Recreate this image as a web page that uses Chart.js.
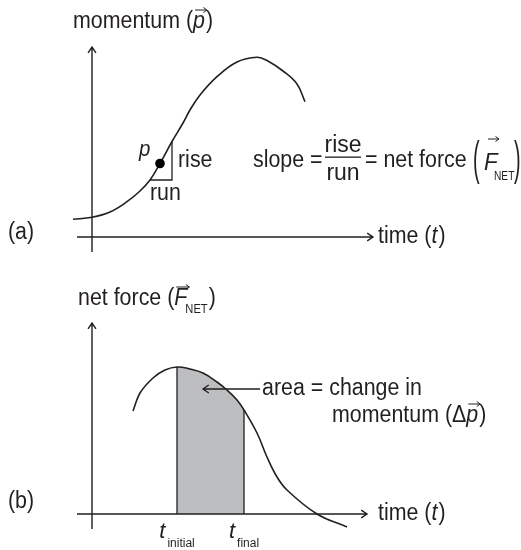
<!DOCTYPE html>
<html>
<head>
<meta charset="utf-8">
<script src="https://cdn.jsdelivr.net/npm/chart.js@4.4.1/dist/chart.umd.min.js"></script>
<style>
  html, body { margin: 0; padding: 0; background: #fff; }
  canvas { display: block; }
</style>
</head>
<body>
<canvas id="momentumChart" width="521" height="275"></canvas>
<canvas id="forceChart" width="521" height="275"></canvas>
<script>
// (a) momentum vs time (arbitrary units, origin at the axes)
const momentumTime  = [-19, 0, 18, 35, 48, 58, 68, 80, 91, 98, 108, 125, 145, 165, 175, 191, 205, 213];
const momentumValue = [17.7, 19.7, 25, 35.3, 46, 57, 73.5, 95.5, 114, 127, 142, 160.3, 175, 179.7, 176.5, 166, 153, 135.3];
const pIndex = 6;     // point p
const runIndex = 5;   // start of the run
const riseIndex = 7;  // top of the rise

// (b) net force vs time
const forceTime  = [41, 48, 61, 73, 85, 98, 111, 125, 135, 145, 152, 165, 175, 185, 195, 225, 255];
const forceValue = [103, 121, 136, 144, 147, 145, 141, 132, 124, 114, 104, 81, 57, 37, 24, 0, -13];
const tInitial = 85;
const tFinal = 152;
const pointerFrom = 168, pointerTo = 111, pointerLevel = 125;

const AXIS_TAIL = -15;
const INK = "#231f20";
const SHADE = "#bcbec0";
const FONT = '"Liberation Sans", Arial, sans-serif';
const SQUEEZE = 0.93; // the original uses a condensed face

function font(size, italic) {
  return (italic ? "italic " : "") + size + "px " + FONT;
}

function toXY(ts, vs) {
  return ts.map((t, i) => ({ x: t, y: vs[i] }));
}

// one piece of text, slightly condensed; returns its width
function put(ctx, text, x, y, f, sq) {
  const k = sq || SQUEEZE;
  ctx.font = f;
  const w = ctx.measureText(text).width * k;
  ctx.save();
  ctx.translate(x, y);
  ctx.scale(k, 1);
  ctx.fillText(text, 0, 0);
  ctx.restore();
  return w;
}

// small vector arrow over a letter
function vecArrow(ctx, x0, x1, y) {
  ctx.save();
  ctx.beginPath();
  ctx.lineWidth = 1;
  ctx.moveTo(x0, y);
  ctx.lineTo(x1, y);
  ctx.moveTo(x1 - 3.5, y - 2.5);
  ctx.lineTo(x1, y);
  ctx.lineTo(x1 - 3.5, y + 2.5);
  ctx.stroke();
  ctx.restore();
}

// pieces drawn one after another: [text, font, gapBefore, dy, arrowHeight]
function row(ctx, x, y, pieces) {
  for (const [text, f, gap, dy, vec] of pieces) {
    x += gap || 0;
    const w = put(ctx, text, x, y + (dy || 0), f);
    if (vec) vecArrow(ctx, x + 2, x + w + 2, y - vec);
    x += w;
  }
  return x;
}

// line with an open arrow head at (x1, y1)
function axisArrow(ctx, x0, y0, x1, y1) {
  const a = Math.atan2(y1 - y0, x1 - x0), L = 7, s = 0.6;
  ctx.beginPath();
  ctx.moveTo(x0, y0);
  ctx.lineTo(x1, y1);
  ctx.moveTo(x1 - L * Math.cos(a - s), y1 - L * Math.sin(a - s));
  ctx.lineTo(x1, y1);
  ctx.lineTo(x1 - L * Math.cos(a + s), y1 - L * Math.sin(a + s));
  ctx.stroke();
}

// tall thin parenthesis centred on cy
function tallParen(ctx, ch, x, cy) {
  ctx.save();
  ctx.font = font(22);
  ctx.textBaseline = "middle";
  ctx.translate(x, cy);
  ctx.scale(0.9, 2.1);
  ctx.fillText(ch, 0, 0);
  ctx.restore();
}

const F23 = font(23), I23 = font(23, true), SUB = font(12);

function timeLabel(ctx, x, y) {
  row(ctx, x, y, [["time (", F23], ["t", I23], [")", F23, 1]]);
}

const axesPlugin = {
  id: "axes",
  afterDatasetsDraw(chart) {
    const { ctx, scales: { x, y } } = chart;
    ctx.save();
    ctx.strokeStyle = INK;
    ctx.lineWidth = 1.4;
    const x0 = x.getPixelForValue(0), y0 = y.getPixelForValue(0);
    axisArrow(ctx, x.getPixelForValue(AXIS_TAIL), y0, x.getPixelForValue(x.max), y0);
    axisArrow(ctx, x0, y.getPixelForValue(AXIS_TAIL), x0, y.getPixelForValue(y.max));
    ctx.restore();
  }
};

function baseOptions(xMax, yMax, padding) {
  return {
    responsive: false,
    animation: false,
    events: [],
    layout: { padding: padding },
    plugins: { legend: { display: false }, tooltip: { enabled: false } },
    scales: {
      x: { type: "linear", min: 0, max: xMax, display: false },
      y: { type: "linear", min: 0, max: yMax, display: false }
    },
    elements: { point: { radius: 0 } }
  };
}

// === (a) MOMENTUM ===
const momentumText = {
  id: "momentumText",
  afterDraw(chart) {
    const { ctx, scales: { x, y } } = chart;
    ctx.save();
    ctx.fillStyle = INK;
    ctx.strokeStyle = INK;

    row(ctx, 73, 28, [["momentum (", F23], ["p", I23, 0, 0, 18], [")", F23, 1]]);
    put(ctx, "(a)", 8, 239, F23);

    // p, rise, run next to the point
    const px = x.getPixelForValue(momentumTime[pIndex]);
    const py = y.getPixelForValue(momentumValue[pIndex]);
    put(ctx, "p", px - 21, py - 8, font(22, true));
    const riseX = x.getPixelForValue(momentumTime[riseIndex]);
    const runY = y.getPixelForValue(momentumValue[runIndex]);
    put(ctx, "rise", riseX + 6, runY - 13, F23);
    put(ctx, "run", x.getPixelForValue(momentumTime[runIndex]), runY + 20, F23);

    // slope = rise / run = net force (F_NET)
    row(ctx, 253, 167, [["slope =", F23]]);
    ctx.textAlign = "center";
    ctx.fillText("rise", 343, 152);
    ctx.fillText("run", 343, 180);
    ctx.textAlign = "left";
    ctx.fillRect(325, 156.5, 36, 1.3);
    row(ctx, 365, 167, [["= net force", F23]]);
    tallParen(ctx, "(", 473, 161);
    put(ctx, "F", 484, 170, font(24, true));
    vecArrow(ctx, 488, 499, 139);
    put(ctx, "NET", 494, 180, SUB, 0.85);
    tallParen(ctx, ")", 514, 161);

    timeLabel(ctx, 378, 243);
    ctx.restore();
  }
};

new Chart(document.getElementById("momentumChart"), {
  type: "line",
  data: {
    datasets: [
      {
        type: "scatter",
        data: [{ x: momentumTime[pIndex], y: momentumValue[pIndex] }],
        pointRadius: 4.8,
        backgroundColor: "#000",
        borderWidth: 0,
        clip: false,
        order: 0
      },
      {
        data: toXY(momentumTime, momentumValue),
        borderColor: INK,
        borderWidth: 1.6,
        tension: 0.4,
        fill: false,
        clip: false,
        order: 1
      },
      {
        data: [
          { x: momentumTime[runIndex], y: momentumValue[runIndex] },
          { x: momentumTime[riseIndex], y: momentumValue[runIndex] },
          { x: momentumTime[riseIndex], y: momentumValue[riseIndex] }
        ],
        borderColor: INK,
        borderWidth: 1.3,
        tension: 0,
        fill: false,
        clip: false,
        order: 2
      }
    ]
  },
  options: baseOptions(281, 190, { left: 92, right: 148, top: 47, bottom: 38 }),
  plugins: [axesPlugin, momentumText]
});

// === (b) NET FORCE ===
const iInit = forceTime.indexOf(tInitial);
const iFinal = forceTime.indexOf(tFinal);

const forceText = {
  id: "forceText",
  afterDraw(chart) {
    const { ctx, scales: { x, y } } = chart;
    ctx.save();
    ctx.fillStyle = INK;
    ctx.strokeStyle = INK;

    let cx = row(ctx, 78, 30, [["net force (", F23], ["F", I23, 0, 0, 18]]);
    cx = row(ctx, cx - 2, 38, [["NET", SUB]]);
    put(ctx, ")", cx + 1, 30, F23);

    put(ctx, "(b)", 8, 233, F23);

    // pointer to the shaded area
    const ay = y.getPixelForValue(pointerLevel);
    ctx.lineWidth = 1.3;
    axisArrow(ctx, x.getPixelForValue(pointerFrom), ay, x.getPixelForValue(pointerTo), ay);
    row(ctx, 262, 120, [["area = change in", F23]]);
    row(ctx, 332, 147, [["momentum (\u0394", F23], ["p", I23, 0, 0, 18], [")", F23, 1]]);

    timeLabel(ctx, 378, 245);

    // t_initial and t_final centred under their lines
    [[tInitial, "initial"], [tFinal, "final"]].forEach(([t, sub]) => {
      ctx.font = font(22, true);
      const wt = ctx.measureText("t").width;
      ctx.font = SUB;
      const ws = ctx.measureText(sub).width;
      const x0 = x.getPixelForValue(t) - (wt + ws + 2) / 2;
      put(ctx, "t", x0, 263, font(22, true), 1);
      put(ctx, sub, x0 + wt + 2, 272, SUB, 1);
    });
    ctx.restore();
  }
};

new Chart(document.getElementById("forceChart"), {
  type: "line",
  data: {
    datasets: [
      {
        data: toXY(forceTime, forceValue),
        borderColor: INK,
        borderWidth: 1.6,
        tension: 0.4,
        fill: false,
        clip: false,
        order: 0
      },
      {
        data: [{ x: tInitial, y: 0 }, { x: tInitial, y: forceValue[iInit] }],
        borderColor: INK,
        borderWidth: 1.3,
        fill: false,
        clip: false,
        order: 1
      },
      {
        data: [{ x: tFinal, y: 0 }, { x: tFinal, y: forceValue[iFinal] }],
        borderColor: INK,
        borderWidth: 1.3,
        fill: false,
        clip: false,
        order: 1
      },
      {
        data: toXY(forceTime.slice(iInit, iFinal + 1), forceValue.slice(iInit, iFinal + 1)),
        borderWidth: 0,
        borderColor: "rgba(0,0,0,0)",
        backgroundColor: SHADE,
        tension: 0.4,
        fill: "origin",
        clip: false,
        order: 3
      }
    ]
  },
  options: baseOptions(275, 191, { left: 92, right: 154, top: 48, bottom: 36 }),
  plugins: [axesPlugin, forceText]
});
</script>
</body>
</html>
